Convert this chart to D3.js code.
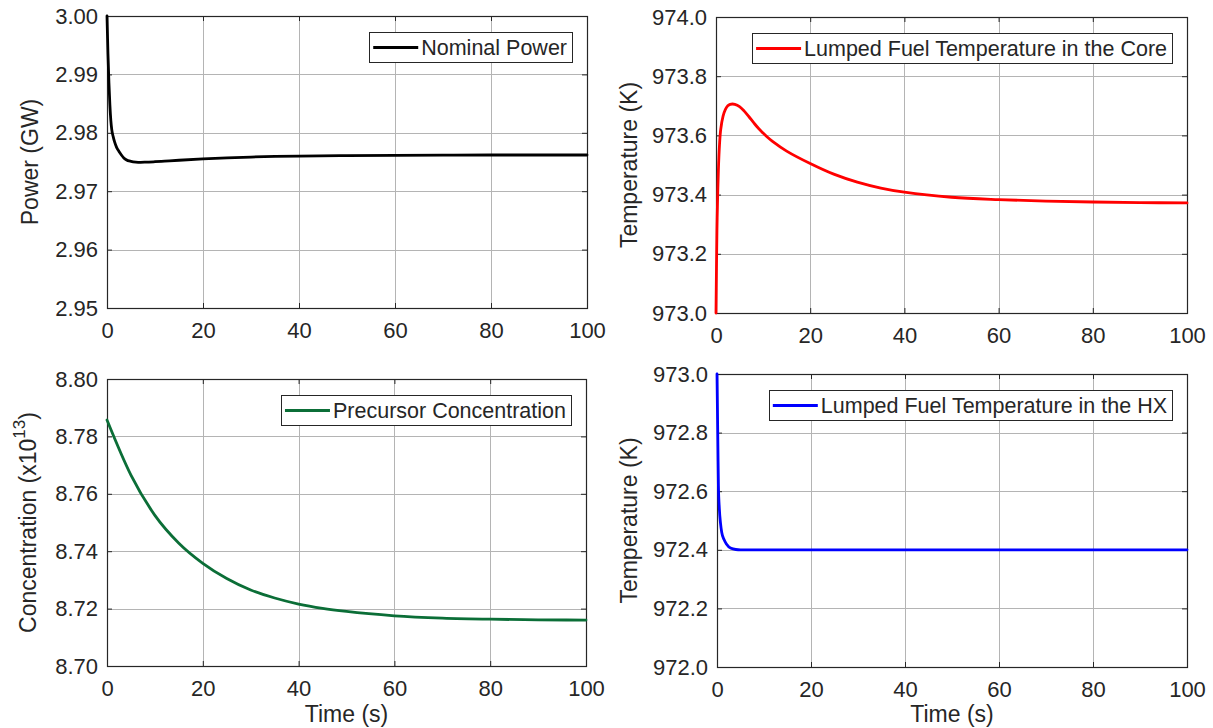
<!DOCTYPE html>
<html>
<head>
<meta charset="utf-8">
<script src="https://cdn.jsdelivr.net/npm/d3@7"></script>
<style>
  html, body { margin: 0; padding: 0; background: #fff; }
  svg { display: block; }
  text { font-family: "Liberation Sans", Arial, Helvetica, sans-serif; fill: #262626; }
</style>
</head>
<body>
<svg id="chart" width="1213" height="728"></svg>
<script>
// ---------------- data ----------------
const xTicks = [0, 20, 40, 60, 80, 100];

const timePower = [0, 0.2, 0.4, 0.6, 0.8, 1, 1.3, 1.6, 2, 2.5, 3, 3.5, 4, 5, 6, 7, 8, 10, 12, 15, 20, 25, 30, 35, 40, 50, 60, 70, 80, 90, 100];
const power = [3.0000, 2.9935, 2.9886, 2.9848, 2.9821, 2.9805, 2.9793, 2.9784, 2.9775, 2.9768, 2.9762, 2.9757, 2.97538, 2.9751, 2.97498, 2.97495, 2.97497, 2.97505, 2.97515, 2.97530, 2.97552, 2.97570, 2.97585, 2.97595, 2.97602, 2.97610, 2.97615, 2.97618, 2.97620, 2.97620, 2.97620];
const powerTicks = [2.95, 2.96, 2.97, 2.98, 2.99, 3.00];

const timeCore = [0, 0.1, 0.2, 0.3, 0.5, 0.75, 1, 1.5, 2, 2.5, 3, 3.5, 4, 5, 6, 7, 8, 9, 10, 11, 12, 15, 20, 25, 30, 35, 40, 50, 60, 70, 80, 90, 100];
const tempCore = [973.00, 973.15, 973.28, 973.36, 973.48, 973.57, 973.62, 973.665, 973.688, 973.700, 973.705, 973.706, 973.705, 973.697, 973.682, 973.663, 973.643, 973.624, 973.608, 973.593, 973.580, 973.547, 973.505, 973.469, 973.442, 973.422, 973.408, 973.391, 973.383, 973.378, 973.375, 973.373, 973.372];
const coreTicks = [973.0, 973.2, 973.4, 973.6, 973.8, 974.0];

const timeConc = [0, 5, 10, 15, 20, 25, 30, 35, 40, 45, 50, 60, 70, 80, 90, 100];
const conc = [8.7857, 8.7665, 8.7525, 8.7428, 8.7358, 8.7305, 8.7265, 8.7237, 8.7216, 8.7201, 8.7190, 8.7175, 8.7167, 8.7163, 8.7161, 8.7160];
const concTicks = [8.70, 8.72, 8.74, 8.76, 8.78, 8.80];

const timeHx = [0, 0.1, 0.2, 0.3, 0.5, 0.75, 1, 1.5, 2, 3, 4, 5, 10, 20, 40, 60, 80, 100];
const tempHx = [973.00, 972.87, 972.74, 972.62, 972.54, 972.49, 972.46, 972.435, 972.42, 972.405, 972.401, 972.400, 972.400, 972.400, 972.400, 972.400, 972.400, 972.400];
const hxTicks = [972.0, 972.2, 972.4, 972.6, 972.8, 973.0];

// ---------------- layout ----------------
const panels = [
  { l: 107, t: 16, r: 587, b: 308, tt: timePower, vv: power, ticks: powerTicks, fmt: d3.format(".2f"),
    color: "#000000", legend: "Nominal Power", ylabel: ["Power (GW)"], ylx: 38, xlabel: null, curve: d3.curveMonotoneX },
  { l: 716, t: 17, r: 1187, b: 313, tt: timeCore, vv: tempCore, ticks: coreTicks, fmt: d3.format(".1f"),
    color: "#ff0000", legend: "Lumped Fuel Temperature in the Core", ylabel: ["Temperature (K)"], ylx: 637, xlabel: null, curve: d3.curveCatmullRom.alpha(0.5) },
  { l: 107, t: 379, r: 586, b: 666, tt: timeConc, vv: conc, ticks: concTicks, fmt: d3.format(".2f"),
    color: "#0b6e37", legend: "Precursor Concentration", ylabel: ["Concentration (x10", "13", ")"], ylx: 36, xlabel: "Time (s)", curve: d3.curveMonotoneX },
  { l: 717, t: 374, r: 1187, b: 667, tt: timeHx, vv: tempHx, ticks: hxTicks, fmt: d3.format(".1f"),
    color: "#0000ff", legend: "Lumped Fuel Temperature in the HX", ylabel: ["Temperature (K)"], ylx: 637, xlabel: "Time (s)", curve: d3.curveMonotoneX }
];

const svg = d3.select("#chart");
const axisColor = "#262626";
const gridColor = "#b4b4b4";

panels.forEach(p => {
  const x = d3.scaleLinear().domain([0, 100]).range([p.l, p.r]);
  const y = d3.scaleLinear().domain([p.ticks[0], p.ticks[p.ticks.length - 1]]).range([p.b, p.t]);
  const g = svg.append("g");

  // grid
  g.append("g").selectAll("line.vg").data(xTicks.slice(1, -1)).join("line")
    .attr("x1", d => Math.round(x(d)) + 0.5).attr("x2", d => Math.round(x(d)) + 0.5)
    .attr("y1", p.t).attr("y2", p.b)
    .attr("stroke", gridColor).attr("stroke-width", 1);
  g.append("g").selectAll("line.hg").data(p.ticks.slice(1, -1)).join("line")
    .attr("y1", d => Math.round(y(d)) + 0.5).attr("y2", d => Math.round(y(d)) + 0.5)
    .attr("x1", p.l).attr("x2", p.r)
    .attr("stroke", gridColor).attr("stroke-width", 1);

  // axes via d3 axis generators (ticks inside)
  const xAxis = d3.axisBottom(x).tickValues(xTicks).tickSize(-5).tickPadding(14).tickFormat(d3.format("d"));
  const yAxis = d3.axisLeft(y).tickValues(p.ticks).tickSize(-5).tickPadding(9).tickFormat(p.fmt);
  const xTop = d3.axisTop(x).tickValues(xTicks).tickSize(-5).tickFormat("");
  const yRight = d3.axisRight(y).tickValues(p.ticks).tickSize(-5).tickFormat("");

  const styleAxis = sel => {
    sel.select(".domain").remove();
    sel.selectAll(".tick line").attr("stroke", axisColor);
    sel.selectAll(".tick text").attr("fill", axisColor)
      .style("font-family", '"Liberation Sans", Arial, sans-serif').style("font-size", "22px");
  };
  g.append("g").attr("transform", `translate(0,${p.b})`).call(xAxis).call(styleAxis);
  g.append("g").attr("transform", `translate(${p.l},0)`).call(yAxis).call(styleAxis);
  g.append("g").attr("transform", `translate(0,${p.t})`).call(xTop).call(styleAxis);
  g.append("g").attr("transform", `translate(${p.r},0)`).call(yRight).call(styleAxis);

  // box
  g.append("rect").attr("x", p.l + 0.5).attr("y", p.t + 0.5)
    .attr("width", p.r - p.l).attr("height", p.b - p.t)
    .attr("fill", "none").attr("stroke", axisColor).attr("stroke-width", 1.2);

  // data line
  const line = d3.line().x(d => x(d[0])).y(d => y(d[1])).curve(p.curve);
  g.append("path").datum(p.tt.map((t, i) => [t, p.vv[i]]))
    .attr("d", line).attr("fill", "none").attr("stroke", p.color)
    .attr("stroke-width", 2.8).attr("stroke-linejoin", "round").attr("stroke-linecap", "round");

  // legend
  const lg = g.append("g");
  const rect = lg.append("rect").attr("fill", "#fff").attr("stroke", axisColor).attr("stroke-width", 1);
  const txt = lg.append("text").text(p.legend).style("font-size", "21.5px").attr("dominant-baseline", "central");
  const tw = txt.node().getComputedTextLength();
  const bw = 52 + tw + 5, bh = 30;
  const bx = p.r - 15 - bw, by = p.t + 16;
  rect.attr("x", Math.round(bx) + 0.5).attr("y", Math.round(by) + 0.5).attr("width", Math.round(bw)).attr("height", bh);
  txt.attr("x", bx + 52).attr("y", by + bh / 2 + 1);
  lg.append("line").attr("x1", bx + 4).attr("x2", bx + 49)
    .attr("y1", by + bh / 2 + 0.5).attr("y2", by + bh / 2 + 0.5)
    .attr("stroke", p.color).attr("stroke-width", 2.8);

  // y label
  const cy = (p.t + p.b) / 2;
  const yl = g.append("text").attr("transform", `translate(${p.ylx},${cy}) rotate(-90)`)
    .attr("text-anchor", "middle").style("font-size", "23px");
  yl.append("tspan").text(p.ylabel[0]);
  if (p.ylabel.length > 1) {
    yl.append("tspan").text(p.ylabel[1]).attr("dy", -11).style("font-size", "17px");
    yl.append("tspan").text(p.ylabel[2]).attr("dy", 11);
  }

  // x label
  if (p.xlabel) {
    g.append("text").attr("x", (p.l + p.r) / 2).attr("y", 722)
      .attr("text-anchor", "middle").style("font-size", "23px").text(p.xlabel);
  }
});
</script>
</body>
</html>
